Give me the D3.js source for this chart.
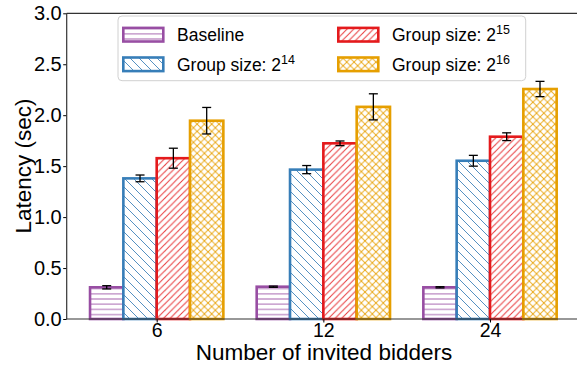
<!DOCTYPE html>
<html>
<head>
<meta charset="utf-8">
<script src="https://cdn.jsdelivr.net/npm/d3@7"></script>
<style>
  html, body { margin: 0; padding: 0; background: #fff; }
  svg { display: block; font-family: "Liberation Sans", Arial, sans-serif; }
</style>
</head>
<body>
<svg id="chart" width="577" height="366"></svg>
<script>
// ---- data ----
const categories = ["6", "12", "24"];
const seriesNames = ["Baseline", "Group size: 2", "Group size: 2", "Group size: 2"];
const seriesSup = ["", "14", "15", "16"];
const baseline = [0.311, 0.317, 0.311];
const group14 = [1.38, 1.466, 1.553];
const group15 = [1.578, 1.724, 1.789];
const group16 = [1.946, 2.082, 2.257];
const baselineErr = [0.016, 0.006, 0.006];
const group14Err = [0.033, 0.04, 0.053];
const group15Err = [0.098, 0.023, 0.038];
const group16Err = [0.13, 0.128, 0.075];
const yTicks = [0, 0.5, 1.0, 1.5, 2.0, 2.5, 3.0];

const values = [baseline, group14, group15, group16];
const errors = [baselineErr, group14Err, group15Err, group16Err];
const colors = ["#984ea3", "#377eb8", "#e41a1c", "#e69f00"];
const hatchIds = ["hatchH", "hatchB", "hatchF", "hatchX"];

const svg = d3.select("#chart");
const mLeft = 66.7, mRight = 580, mTop = 13.3, mBottom = 319;

const x = d3.scaleLinear().domain([-0.54, 2.54]).range([mLeft, mRight]);
const y = d3.scaleLinear().domain([0, 3]).range([mBottom, mTop]);
const barW = 0.2;

// ---- hatch patterns ----
const defs = svg.append("defs");
function pat(id, size, color, paths, h) {
  const p = defs.append("pattern").attr("id", id)
    .attr("patternUnits", "userSpaceOnUse")
    .attr("width", size).attr("height", h || size);
  p.append("rect").attr("width", size).attr("height", h || size).attr("fill", "#fff");
  paths.forEach(d => p.append("path").attr("d", d)
    .attr("stroke", color).attr("stroke-width", 1).attr("fill", "none").attr("opacity", 0.85));
}
const sH = 5.2;
pat("hatchH", 10, colors[0], [`M0,${sH/2} L10,${sH/2}`], sH);
const sB = 9;
pat("hatchB", sB, colors[1], [`M0,0 L${sB},${sB}`, `M${-sB},0 L${sB},${2*sB}`, `M0,${-sB} L${2*sB},${sB}`]);
const sF = 6.6;
pat("hatchF", sF, colors[2], [`M0,${sF} L${sF},0`, `M${-sF},${sF} L${sF},${-sF}`, `M0,${2*sF} L${2*sF},0`]);
const sX = 7.3;
pat("hatchX", sX, colors[3], [`M0,0 L${sX},${sX}`, `M${-sX},0 L${sX},${2*sX}`, `M0,${-sX} L${2*sX},${sX}`,
  `M0,${sX} L${sX},0`, `M${-sX},${sX} L${sX},${-sX}`, `M0,${2*sX} L${2*sX},0`]);

// ---- bars ----
const plot = svg.append("g");
values.forEach((vals, s) => {
  const g = plot.append("g");
  g.selectAll("rect").data(vals).join("rect")
    .attr("x", (d, i) => x(i + (s - 2) * barW))
    .attr("width", x(barW) - x(0))
    .attr("y", d => y(d))
    .attr("height", d => y(0) - y(d))
    .attr("fill", `url(#${hatchIds[s]})`)
    .attr("stroke", colors[s])
    .attr("stroke-width", 2.6);
});
// error bars
values.forEach((vals, s) => {
  const g = plot.append("g").attr("stroke", "#000").attr("stroke-width", 1.3);
  vals.forEach((d, i) => {
    const cx = x(i + (s - 1.5) * barW);
    const e = errors[s][i];
    g.append("line").attr("x1", cx).attr("x2", cx).attr("y1", y(d - e)).attr("y2", y(d + e));
    g.append("line").attr("x1", cx - 4.5).attr("x2", cx + 4.5).attr("y1", y(d - e)).attr("y2", y(d - e));
    g.append("line").attr("x1", cx - 4.5).attr("x2", cx + 4.5).attr("y1", y(d + e)).attr("y2", y(d + e));
  });
});

// ---- axes ----
const xAxis = d3.axisBottom(x).tickValues([0, 1, 2]).tickFormat(i => categories[i]).tickSize(3.5).tickPadding(0.5);
const gx = svg.append("g").attr("transform", `translate(0,${mBottom})`).call(xAxis);
gx.select(".domain").remove();
gx.selectAll("text").attr("font-size", 19.5).attr("fill", "#000").attr("font-family", "Liberation Sans, Arial, sans-serif");
gx.selectAll("line").attr("stroke", "#000").attr("stroke-width", 1);

const yAxis = d3.axisLeft(y).tickValues(yTicks).tickFormat(d3.format(".1f")).tickSize(3.5).tickPadding(1.5);
const gy = svg.append("g").attr("transform", `translate(${mLeft},0)`).call(yAxis);
gy.select(".domain").remove();
gy.selectAll("text").attr("font-size", 20).attr("fill", "#000").attr("font-family", "Liberation Sans, Arial, sans-serif");
gy.selectAll("line").attr("stroke", "#000").attr("stroke-width", 1);

// spines
const sp = svg.append("g").attr("stroke", "#333").attr("stroke-width", 1.2).attr("fill", "none");
sp.append("line").attr("x1", mLeft).attr("x2", mRight).attr("y1", mBottom).attr("y2", mBottom);
sp.append("line").attr("x1", mLeft).attr("x2", mRight).attr("y1", mTop).attr("y2", mTop);
sp.append("line").attr("x1", mLeft).attr("x2", mLeft).attr("y1", mTop).attr("y2", mBottom);
sp.append("line").attr("x1", mRight).attr("x2", mRight).attr("y1", mTop).attr("y2", mBottom);

// axis labels
svg.append("text").attr("x", 324).attr("y", 359.5).attr("text-anchor", "middle")
  .attr("font-size", 22.5).text("Number of invited bidders");
svg.append("text").attr("transform", "translate(31,166) rotate(-90)").attr("text-anchor", "middle")
  .attr("font-size", 22.5).text("Latency (sec)");

// ---- legend ----
const lg = svg.append("g");
lg.append("rect").attr("x", 118).attr("y", 16).attr("width", 407.7).attr("height", 64.7)
  .attr("rx", 4).attr("fill", "#fff").attr("fill-opacity", 0.8).attr("stroke", "#d0d0d0").attr("stroke-width", 1);
const pos = [[123.3, 34.7], [123.3, 64.3], [338.3, 34.7], [338.3, 64.3]];
seriesNames.forEach((name, s) => {
  const [px, py] = pos[s];
  lg.append("rect").attr("x", px).attr("y", py - 6.8).attr("width", 40).attr("height", 13.6)
    .attr("fill", `url(#${hatchIds[s]})`).attr("stroke", colors[s]).attr("stroke-width", 2.6);
  const t = lg.append("text").attr("x", px + 53.7).attr("y", py + 6.2).attr("font-size", 17.5).attr("fill", "#000");
  t.append("tspan").text(name);
  if (seriesSup[s]) t.append("tspan").attr("font-size", 12.5).attr("dy", -7).text(seriesSup[s]);
});
</script>
</body>
</html>
